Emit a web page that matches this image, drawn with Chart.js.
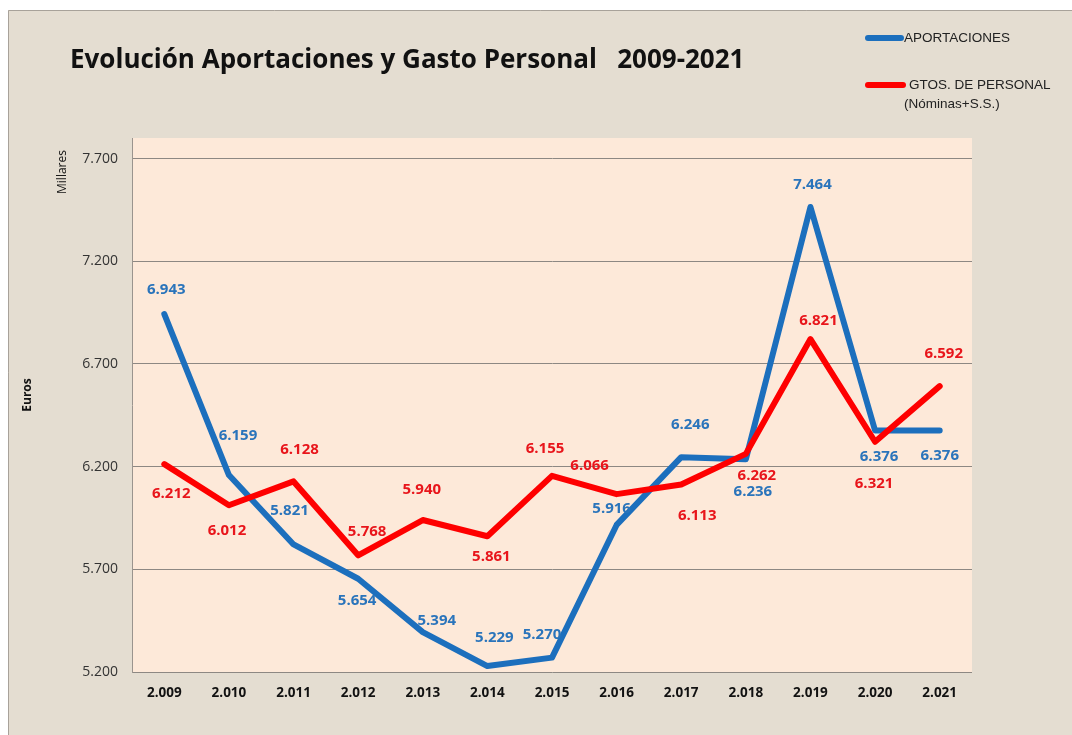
<!DOCTYPE html>
<html lang="es">
<head>
  <meta charset="UTF-8">
  <title>Evolución Aportaciones y Gasto Personal 2009-2021</title>
  <script src="https://cdn.jsdelivr.net/npm/chart.js"></script>
  <style>
    html, body { margin: 0; padding: 0; background: #fff; }
    #wrap { width: 1072px; height: 735px; }
  </style>
</head>
<body>
<div id="wrap"><canvas id="evolChart" width="1072" height="735"></canvas></div>

<script>
// datos (miles de euros)
var years = ['2.009', '2.010', '2.011', '2.012', '2.013', '2.014', '2.015',
             '2.016', '2.017', '2.018', '2.019', '2.020', '2.021'];
var aportaciones = [6943, 6159, 5821, 5654, 5394, 5229, 5270, 5916, 6246, 6236, 7464, 6376, 6376];
var gastosPersonal = [6212, 6012, 6128, 5768, 5940, 5861, 6155, 6066, 6113, 6262, 6821, 6321, 6592];
var yTicks = [5200, 5700, 6200, 6700, 7200, 7700];

// desplazamiento de las etiquetas respecto al punto (px)
var blueOffsets = [[2,-24],[9,-39],[-4,-34],[-1,22],[14,-11],[7,-28],[-10,-23],
                   [-5,-16],[9,-32],[7,33],[2,-22],[4,26],[0,25]];
var redOffsets = [[7,30],[-2,26],[6,-32],[9,-24],[-1,-30],[4,20],[-7,-27],
                  [-27,-28],[16,31],[11,22],[8,-18],[-1,42],[4,-32]];

var BLUE = '#1c6fbd';
var RED = '#fe0000';

function fmt(v) {
  return String(v).replace(/\B(?=(\d{3})+(?!\d))/g, '.');
}

// fondo, titulo, leyenda y etiquetas
var decorPlugin = {
  id: 'decor',
  beforeDraw: function (chart) {
    var c = chart.ctx, a = chart.chartArea;
    c.save();
    c.fillStyle = '#ffffff';
    c.fillRect(0, 0, chart.width, chart.height);
    c.fillStyle = '#e4ddd1';
    c.fillRect(8, 10, chart.width - 8, chart.height - 10);
    c.strokeStyle = '#a8a29a';
    c.lineWidth = 1;
    c.beginPath();
    c.moveTo(8.5, chart.height); c.lineTo(8.5, 10.5); c.lineTo(chart.width, 10.5);
    c.stroke();
    c.fillStyle = '#fde9d9';
    c.fillRect(a.left, a.top, a.right - a.left, a.bottom - a.top);
    c.restore();
  },
  afterDraw: function (chart) {
    var c = chart.ctx;
    c.save();
    // titulo
    c.fillStyle = '#111';
    c.textBaseline = 'alphabetic';
    c.textAlign = 'left';
    c.font = 'bold 26px "Open Sans"';
    c.fillText('Evolución Aportaciones y Gasto Personal   2009-2021', 70, 68);

    // ejes
    c.font = 'bold 12px "Open Sans"';
    c.textAlign = 'center';
    c.textBaseline = 'middle';
    c.save(); c.translate(28, 395); c.rotate(-Math.PI / 2); c.fillText('Euros', 0, 0); c.restore();
    c.font = '12px "Open Sans"';
    c.save(); c.translate(63, 172); c.rotate(-Math.PI / 2); c.fillText('Millares', 0, 0); c.restore();

    // leyenda
    c.lineCap = 'round';
    c.lineWidth = 6;
    c.strokeStyle = BLUE;
    c.beginPath(); c.moveTo(868, 38); c.lineTo(901, 38); c.stroke();
    c.strokeStyle = RED;
    c.beginPath(); c.moveTo(868, 85); c.lineTo(903, 85); c.stroke();
    c.fillStyle = '#222';
    c.textAlign = 'left';
    c.font = '13.5px "Liberation Sans"';
    c.fillText('APORTACIONES', 904, 38);
    c.fillText('GTOS. DE PERSONAL', 909, 85);
    c.fillText('(Nóminas+S.S.)', 904, 104);
    c.restore();
  },
  afterDatasetsDraw: function (chart) {
    var c = chart.ctx;
    c.save();
    c.font = 'bold 15px "Open Sans"';
    c.textAlign = 'center';
    c.textBaseline = 'middle';
    var sets = [[0, blueOffsets, '#2a74bb'], [1, redOffsets, '#e8151b']];
    sets.forEach(function (s) {
      var meta = chart.getDatasetMeta(s[0]);
      var vals = chart.data.datasets[s[0]].data;
      c.fillStyle = s[2];
      meta.data.forEach(function (pt, i) {
        c.fillText(fmt(vals[i]), pt.x + s[1][i][0], pt.y + s[1][i][1]);
      });
    });
    c.restore();
  }
};

document.addEventListener('DOMContentLoaded', function () {
  var ctx = document.getElementById('evolChart').getContext('2d');

  new Chart(ctx, {
    type: 'line',
    data: {
      labels: years,
      datasets: [{
        label: 'APORTACIONES',
        data: aportaciones,
        borderColor: BLUE,
        borderWidth: 6,
        order: 1
      }, {
        label: 'GTOS. DE PERSONAL (Nóminas+S.S.)',
        data: gastosPersonal,
        borderColor: RED,
        borderWidth: 6,
        order: 0
      }]
    },
    options: {
      responsive: false,
      animation: false,
      devicePixelRatio: 1,
      layout: { padding: { top: 138, right: 100, left: 0, bottom: 0 } },
      elements: {
        point: { radius: 0, hoverRadius: 0 },
        line: { tension: 0, borderJoinStyle: 'round', borderCapStyle: 'round' }
      },
      plugins: {
        legend: { display: false },
        title: { display: false },
        tooltip: { enabled: false }
      },
      scales: {
        x: {
          offset: true,
          grid: { display: false, drawTicks: false },
          border: { display: false },
          ticks: {
            color: '#111',
            font: { family: 'Open Sans', weight: 'bold', size: 13.5 },
            padding: 13,
            maxRotation: 0
          },
          afterFit: function (s) { s.height = 63; }
        },
        y: {
          min: 5200,
          max: 7800,
          afterBuildTicks: function (s) {
            s.ticks = yTicks.map(function (v) { return { value: v }; });
          },
          afterFit: function (s) { s.width = 132; },
          grid: { color: '#8d8883', lineWidth: 1, drawTicks: false },
          border: { display: true, color: '#9a948e', width: 1 },
          ticks: {
            color: '#333',
            font: { family: 'Open Sans', size: 14 },
            padding: 14,
            callback: function (v) { return fmt(v); }
          }
        }
      }
    },
    plugins: [decorPlugin]
  });
});
</script>
</body>
</html>
